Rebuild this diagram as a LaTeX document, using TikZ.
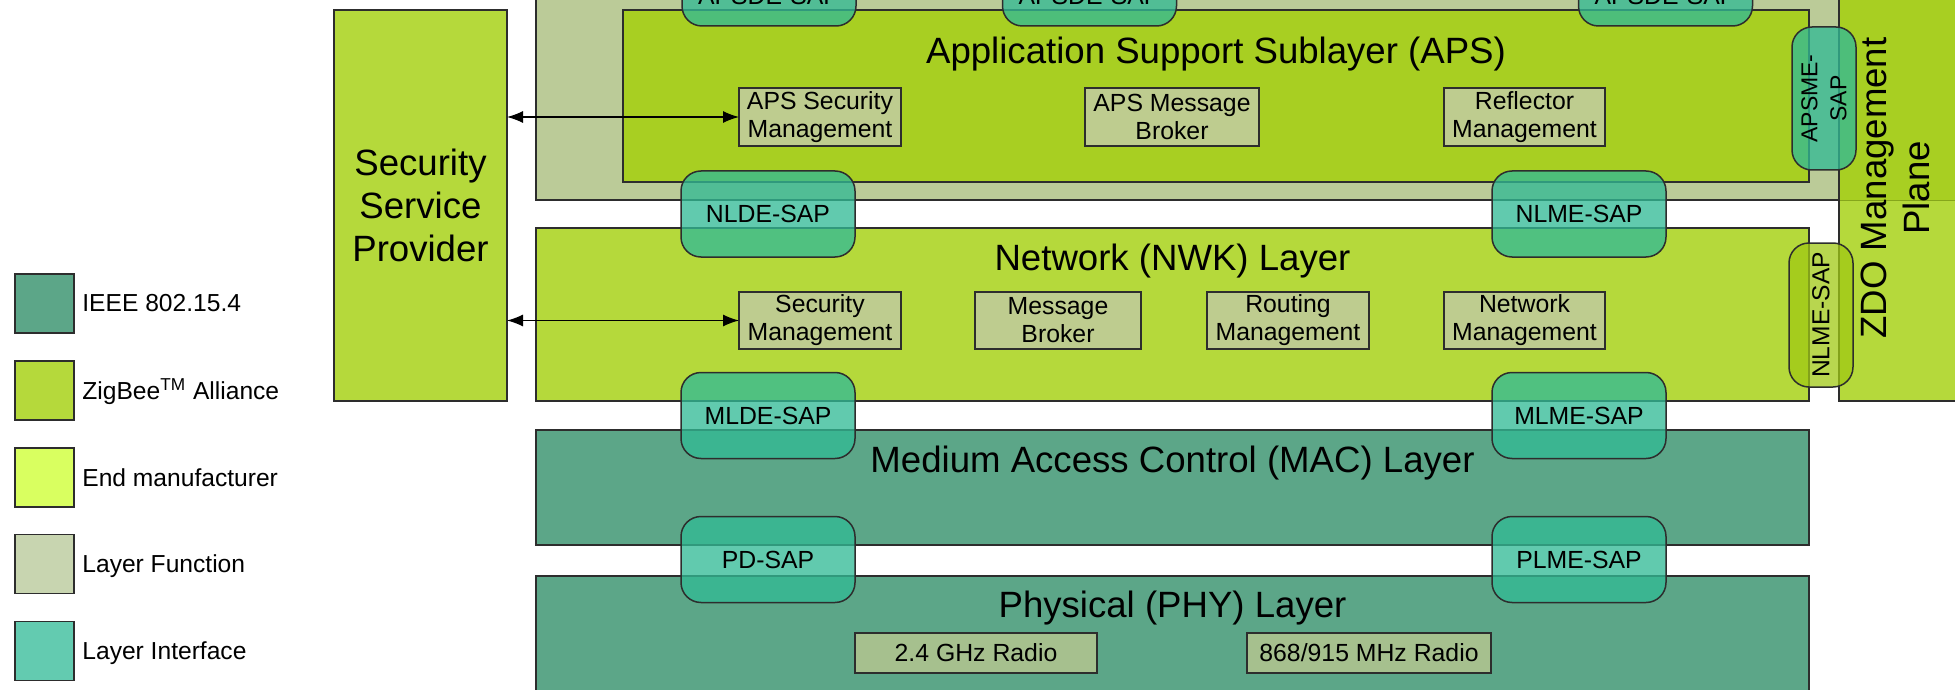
\documentclass[tikz,border=0pt]{standalone}
\usepackage{fontspec}
\setmainfont{Liberation Sans}
\usetikzlibrary{arrows.meta}

\definecolor{ieee}{RGB}{92,166,136}
\definecolor{zigbee}{RGB}{181,217,59}
\definecolor{apsgreen}{RGB}{168,207,34}
\definecolor{endmfr}{RGB}{217,255,96}
\definecolor{funcgrey}{RGB}{200,213,176}
\definecolor{framegrey}{RGB}{187,203,152}
\definecolor{fnfill}{RGB}{190,204,143}
\definecolor{radiofill}{RGB}{166,192,142}
\definecolor{iface}{RGB}{99,203,176}
\definecolor{sapfill}{RGB}{50,186,149}
\definecolor{sapgreen}{RGB}{160,200,20}
\definecolor{edge}{RGB}{45,45,45}

\newcommand\ttlfont{\fontsize{18.3}{21.5}\selectfont}
\newcommand\lblfont{\fontsize{12.4}{14}\selectfont}

\begin{document}
\begin{tikzpicture}[x=0.5pt,y=-0.5pt,
  panel/.style={draw=edge, line width=0.9pt, inner sep=0pt, outer sep=0pt},
  fn/.style={panel, line width=0.8pt, fill=fnfill, align=center, font=\lblfont},
  sap/.style={draw=edge, line width=0.75pt, fill=sapfill, fill opacity=0.77,
    text opacity=1, rounded corners=10pt, minimum width=87pt,
    minimum height=43pt, inner sep=0pt, font=\lblfont},
  ttl/.style={inner sep=0pt, font=\ttlfont},
  arr/.style={{Latex[length=8pt,width=6pt]}-{Latex[length=8pt,width=6pt]},
    line width=0.6pt, draw=black},
  legsq/.style={draw=edge, line width=0.9pt, minimum width=29.5pt,
    minimum height=29.5pt, inner sep=0pt},
  legtxt/.style={anchor=base west, inner sep=0pt,
    font=\fontsize{12.3}{14}\selectfont}]
\useasboundingbox (0,0) rectangle (1955,690);
\clip (0,0) rectangle (1955,690);

% application frame
\node[panel, fill=framegrey, minimum width=651.5pt, minimum height=130pt] (apl) at (1187.5,70) {};

% management plane: darker upper part, lighter lower part, one outline
\node[fill=apsgreen, inner sep=0pt, minimum width=75.5pt, minimum height=130pt] (zdotop) at (1914.5,70) {};
\node[fill=zigbee, inner sep=0pt, minimum width=75.5pt, minimum height=100.5pt] (zdobot) at (1914.5,300.5) {};
\draw[line width=0.5pt, draw=apsgreen!80!black] (zdotop.south west) -- (zdotop.south east);
\node[panel, minimum width=75.5pt, minimum height=230.5pt] (zdo) at (1914.5,170.5) {};

% layers
\node[panel, fill=apsgreen, minimum width=593pt, minimum height=86pt] (aps) at (1216,96) {};
\node[panel, fill=zigbee, minimum width=86.5pt, minimum height=195.5pt] (ssp) at (420.5,205.5) {};
\node[panel, fill=zigbee, minimum width=636.5pt, minimum height=86.5pt] (nwk) at (1172.5,314.5) {};
\node[panel, fill=ieee, minimum width=636.5pt, minimum height=57.5pt] (mac) at (1172.5,487.5) {};
\node[panel, fill=ieee, minimum width=636.5pt, minimum height=72pt] (phy) at (1172.5,648) {};

% layer titles
\node[ttl, align=center] (ssptxt) at (ssp) {Security\\Service\\Provider};
\node[ttl, anchor=base] (apst) at (1216,64) {Application Support Sublayer (APS)};
\node[ttl, anchor=base] (nwkt) at (1172.5,270) {Network (NWK) Layer};
\node[ttl, anchor=base] (mact) at (1172.5,472) {Medium Access Control (MAC) Layer};
\node[ttl, anchor=base] (phyt) at (1172.5,617) {Physical (PHY) Layer};

% layer functions
\node[fn, minimum width=81pt, minimum height=29pt] (apssm) at (820,117) {APS Security\\Management};
\node[fn, minimum width=87pt, minimum height=29pt] (apsmb) at (1172,117) {APS Message\\Broker};
\node[fn, minimum width=80.5pt, minimum height=29pt] (reflm) at (1524.5,117) {Reflector\\Management};
\node[fn, minimum width=81pt, minimum height=28.5pt] (nwksm) at (820,320.5) {Security\\Management};
\node[fn, minimum width=83pt, minimum height=28.5pt] (nwkmb) at (1058,320.5) {Message\\Broker};
\node[fn, minimum width=81pt, minimum height=28.5pt] (routm) at (1288,320.5) {Routing\\Management};
\node[fn, minimum width=80.5pt, minimum height=28.5pt] (netm) at (1524.5,320.5) {Network\\Management};
\node[fn, fill=radiofill, minimum width=121pt, minimum height=20pt] (r24) at (976,653) {2.4 GHz Radio};
\node[fn, fill=radiofill, minimum width=122pt, minimum height=20pt] (r868) at (1369,653) {868/915 MHz Radio};

% security links
\draw[arr] (ssp.east |- apssm.west) -- (apssm.west);
\draw[arr] (ssp.east |- nwksm.west) -- (nwksm.west);

% service access points
\node[sap, minimum height=30pt] (apsde1) at (769,-4) {APSDE-SAP};
\node[sap, minimum height=30pt] (apsde2) at (1089.5,-4) {APSDE-SAP};
\node[sap, minimum height=30pt] (apsde3) at (1665.5,-4) {APSDE-SAP};
\node[sap] (nlde) at (768,214) {NLDE-SAP};
\node[sap] (nlme) at (1579,214) {NLME-SAP};
\node[sap] (mlde) at (768,415.5) {MLDE-SAP};
\node[sap] (mlme) at (1579,415.5) {MLME-SAP};
\node[sap] (pd) at (768,559.5) {PD-SAP};
\node[sap] (plme) at (1579,559.5) {PLME-SAP};
\node[sap, rotate=90, minimum width=71.5pt, minimum height=32pt, align=center,
  font=\fontsize{11.5}{14.5}\selectfont] (apsme) at (1824,98.5) {APSME-\\SAP};
\node[sap, rotate=90, fill=sapgreen, fill opacity=0.75, minimum width=72pt,
  minimum height=32pt, font=\fontsize{12.3}{14}\selectfont] (nlmev) at (1821,315) {NLME-SAP};

% management plane title
\node[ttl, rotate=90, align=center] (zdotxt) at (1895,188) {ZDO Management\\Plane};

% legend
\node[legsq, fill=ieee] (lgieee) at (44.5,303.7) {};
\node[legtxt] (lgieeet) at (82,311) {IEEE 802.15.4};
\node[legsq, fill=zigbee] (lgzb) at (44.5,390.5) {};
\node[legtxt] (lgzbt) at (82,399) {ZigBee\textsuperscript{TM} Alliance};
\node[legsq, fill=endmfr] (lgend) at (44.5,477.5) {};
\node[legtxt] (lgendt) at (82,486) {End manufacturer};
\node[legsq, fill=funcgrey] (lgfn) at (44.5,564) {};
\node[legtxt] (lgfnt) at (82,572) {Layer Function};
\node[legsq, fill=iface] (lgif) at (44.5,651) {};
\node[legtxt] (lgift) at (82,659) {Layer Interface};
\end{tikzpicture}
\end{document}
